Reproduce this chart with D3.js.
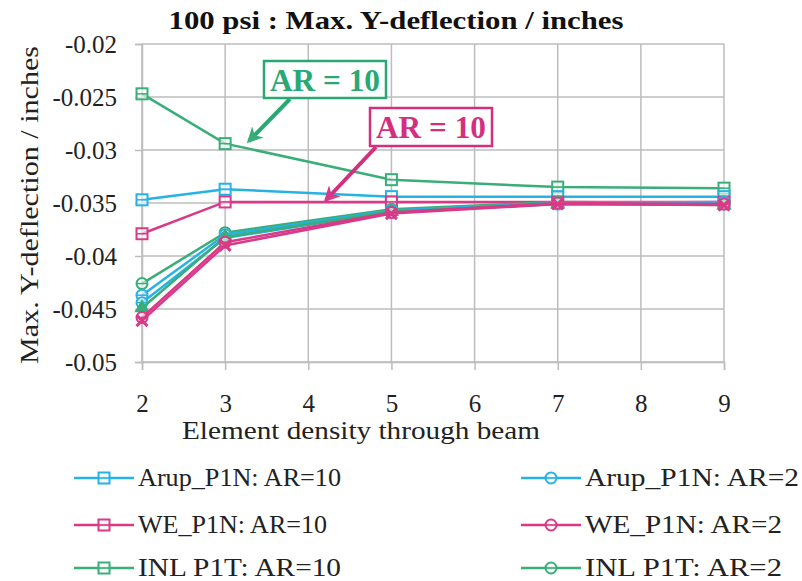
<!DOCTYPE html>
<html>
<head>
<meta charset="utf-8">
<script src="https://cdn.jsdelivr.net/npm/d3@7"></script>
<style>
  body { margin: 0; background: #fff; }
  svg text { font-family: "Liberation Serif", Tinos, "Times New Roman", serif !important; }
</style>
</head>
<body>
<div id="chart"></div>
<script>
// element density values on the x axis
const densities = [2, 3, 5, 7, 9];
const xTicks = [2, 3, 4, 5, 6, 7, 8, 9];
const yTicks = [-0.02, -0.025, -0.03, -0.035, -0.04, -0.045, -0.05];

// series values (max. Y-deflection, inches)
const arupAR10 = [-0.0347, -0.0337, -0.0344, -0.0344, -0.0344];
const weAR10   = [-0.0379, -0.0349, -0.0349, -0.0349, -0.0349];
const inlAR10  = [-0.0247, -0.0294, -0.0328, -0.0335, -0.0336];
const arupAR2  = [-0.0437, -0.0380, -0.0357, -0.0350, -0.0349];
const weAR2    = [-0.0458, -0.0387, -0.0359, -0.0350, -0.0351];
const inlAR2   = [-0.0426, -0.0378, -0.0356, -0.0349, -0.0350];
// extra series whose legend entries are cut off in the picture
const arupExtra = [-0.0444, -0.0383, -0.0358, -0.0351, -0.0351];
const weExtra   = [-0.0461, -0.0390, -0.0360, -0.0351, -0.0352];
const inlExtra  = [-0.0449, -0.0382, -0.0358, -0.0351, -0.0352];

const CYAN = "#27b2e6", PINK = "#d83a88", GREEN = "#3aae79";
const FONT = "serif";

const series = [
    { name: "INL_P1T: AR=10", values: inlAR10, color: GREEN, marker: "square" },
    { name: "Arup_P1N: AR=10", values: arupAR10, color: CYAN, marker: "square" },
    { name: "WE_P1N: AR=10", values: weAR10, color: PINK, marker: "square" },
    { name: "INL_P1T: AR=2", values: inlAR2, color: GREEN, marker: "circle" },
    { name: "Arup_P1N: AR=2", values: arupAR2, color: CYAN, marker: "circle" },
    { name: "arup extra", values: arupExtra, color: CYAN, marker: "circle" },
    { name: "inl extra", values: inlExtra, color: GREEN, marker: "triangle" },
    { name: "WE_P1N: AR=2", values: weAR2, color: PINK, marker: "circle" },
    { name: "we extra", values: weExtra, color: PINK, marker: "cross" }
];

const legendLeft = ["Arup_P1N: AR=10", "WE_P1N: AR=10", "INL  P1T: AR=10"];
const legendRight = ["Arup_P1N: AR=2", "WE_P1N: AR=2", "INL  P1T: AR=2"];
const legendColors = [CYAN, PINK, GREEN];

const MARGIN = { top: 44, left: 142 },
    WIDTH = 724 - 142,
    HEIGHT = 362 - 44;

const svg = d3.select("#chart").append("svg")
    .attr("width", 802)
    .attr("height", 581);

function addText(parent, size) {
    return parent.append("text").attr("font-family", FONT).attr("font-size", size);
}

const g = svg.append("g")
    .attr("transform", "translate(" + MARGIN.left + "," + MARGIN.top + ")");

const xScale = d3.scaleLinear().domain([2, 9]).range([0, WIDTH]);
const yScale = d3.scaleLinear().domain([-0.05, -0.02]).range([HEIGHT, 0]);

// gridlines
g.append("g").selectAll("line").data(yTicks).join("line")
    .attr("x1", 0).attr("x2", WIDTH)
    .attr("y1", d => yScale(d)).attr("y2", d => yScale(d))
    .attr("stroke", "#bdbdbd").attr("stroke-width", 1.5);
g.append("g").selectAll("line").data(xTicks).join("line")
    .attr("x1", d => xScale(d)).attr("x2", d => xScale(d))
    .attr("y1", 0).attr("y2", HEIGHT)
    .attr("stroke", "#bdbdbd").attr("stroke-width", 1.5);

// axes
const xAxis = g.append("g")
    .attr("transform", "translate(0," + HEIGHT + ")")
    .call(d3.axisBottom(xScale).tickValues(xTicks).tickSize(8).tickPadding(24).tickFormat(d3.format("d")));
const yAxis = g.append("g")
    .call(d3.axisLeft(yScale).tickValues(yTicks).tickSize(7).tickPadding(18).tickFormat(d => String(d)));
[xAxis, yAxis].forEach(a => {
    a.attr("font-family", FONT).attr("font-size", 25);
    a.select(".domain").attr("stroke", "#bdbdbd").attr("stroke-width", 1.5);
    a.selectAll(".tick line").attr("stroke", "#bdbdbd").attr("stroke-width", 1.5);
    a.selectAll(".tick text").attr("fill", "#222").attr("font-family", FONT).attr("font-size", 25);
});
yAxis.selectAll(".tick text").attr("dy", "0.35em");

// lines and markers
const line = d3.line().x((d, i) => xScale(densities[i])).y(d => yScale(d));

function drawMarker(sel, type, color, x, y) {
    const s = 5.5;
    if (type === "square") {
        sel.append("rect").attr("x", x - s).attr("y", y - s).attr("width", 2 * s).attr("height", 2 * s)
            .attr("fill", "#fff").attr("fill-opacity", 0.6).attr("stroke", color).attr("stroke-width", 2);
        sel.append("line").attr("x1", x - s).attr("x2", x + s).attr("y1", y).attr("y2", y)
            .attr("stroke", color).attr("stroke-width", 1.5);
    } else if (type === "circle") {
        sel.append("circle").attr("cx", x).attr("cy", y).attr("r", s)
            .attr("fill", "#fff").attr("fill-opacity", 0.6).attr("stroke", color).attr("stroke-width", 2);
        sel.append("line").attr("x1", x - s).attr("x2", x + s).attr("y1", y).attr("y2", y)
            .attr("stroke", color).attr("stroke-width", 1.5);
    } else if (type === "triangle") {
        sel.append("path").attr("d", d3.symbol(d3.symbolTriangle, 70)()).attr("transform", `translate(${x},${y})`)
            .attr("fill", color).attr("stroke", color).attr("stroke-width", 1.5);
    } else if (type === "cross") {
        sel.append("path").attr("d", `M${x - s},${y - s}L${x + s},${y + s}M${x - s},${y + s}L${x + s},${y - s}`)
            .attr("stroke", color).attr("stroke-width", 3);
    }
}

series.forEach(s => {
    const sg = g.append("g");
    sg.append("path").datum(s.values)
        .attr("d", line)
        .attr("fill", "none")
        .attr("stroke", s.color)
        .attr("stroke-width", 2.5);
    s.values.forEach((v, i) => drawMarker(sg, s.marker, s.color, xScale(densities[i]), yScale(v)));
});

// title
addText(svg, 25)
    .attr("x", 396).attr("y", 29)
    .attr("text-anchor", "middle")
    .attr("font-weight", "bold").attr("fill", "#111")
    .attr("textLength", 455).attr("lengthAdjust", "spacingAndGlyphs")
    .text("100 psi : Max. Y-deflection / inches");

// axis titles
addText(svg, 25)
    .attr("x", 361).attr("y", 439)
    .attr("text-anchor", "middle")
    .attr("fill", "#222")
    .attr("textLength", 358).attr("lengthAdjust", "spacingAndGlyphs")
    .text("Element density through beam");
addText(svg, 25)
    .attr("transform", "rotate(-90)")
    .attr("x", -205).attr("y", 38)
    .attr("text-anchor", "middle")
    .attr("fill", "#222")
    .attr("textLength", 318).attr("lengthAdjust", "spacingAndGlyphs")
    .text("Max. Y-deflection / inches");

// annotations
svg.append("defs").selectAll("marker").data([["arrG", GREEN], ["arrP", PINK]]).join("marker")
    .attr("id", d => d[0]).attr("viewBox", "0 0 10 10").attr("refX", 8).attr("refY", 5)
    .attr("markerWidth", 4).attr("markerHeight", 4).attr("orient", "auto")
    .append("path").attr("d", "M0,0L10,5L0,10L3,5Z").attr("fill", d => d[1]);

const notes = [
    { x: 264, y: 61, w: 122, h: 37, color: "#2aa873", ax1: 290, ay1: 99, ax2: 249, ay2: 141, id: "arrG" },
    { x: 370, y: 108, w: 122, h: 38, color: "#d42f7e", ax1: 376, ay1: 147, ax2: 326, ay2: 200, id: "arrP" }
];
notes.forEach(n => {
    svg.append("line").attr("x1", n.ax1).attr("y1", n.ay1).attr("x2", n.ax2).attr("y2", n.ay2)
        .attr("stroke", n.color).attr("stroke-width", 4).attr("marker-end", `url(#${n.id})`);
    svg.append("rect").attr("x", n.x).attr("y", n.y).attr("width", n.w).attr("height", n.h)
        .attr("fill", "#fff").attr("stroke", n.color).attr("stroke-width", 2.5);
    addText(svg, 32).attr("x", n.x + n.w / 2).attr("y", n.y + n.h / 2 + 11)
        .attr("text-anchor", "middle")
        .attr("font-weight", "bold")
        .attr("fill", n.color)
        .attr("textLength", 110).attr("lengthAdjust", "spacingAndGlyphs")
        .text("AR = 10");
});

// legend
const legendRows = [478, 525, 568];
const leftWidths = [203, 189, 203];
const rightWidths = [214, 197, 197];
function legendItem(x, y, label, color, marker, len) {
    const lg = svg.append("g");
    lg.append("line").attr("x1", x).attr("x2", x + 60).attr("y1", y).attr("y2", y)
        .attr("stroke", color).attr("stroke-width", 2.5);
    drawMarker(lg, marker, color, x + 30, y);
    addText(lg, 26).attr("x", x + 64).attr("y", y + 8)
        .attr("fill", "#222")
        .attr("textLength", len).attr("lengthAdjust", "spacingAndGlyphs")
        .text(label);
}
legendLeft.forEach((t, i) => legendItem(74, legendRows[i], t, legendColors[i], "square", leftWidths[i]));
legendRight.forEach((t, i) => legendItem(521, legendRows[i], t, legendColors[i], "circle", rightWidths[i]));
</script>
</body>
</html>
